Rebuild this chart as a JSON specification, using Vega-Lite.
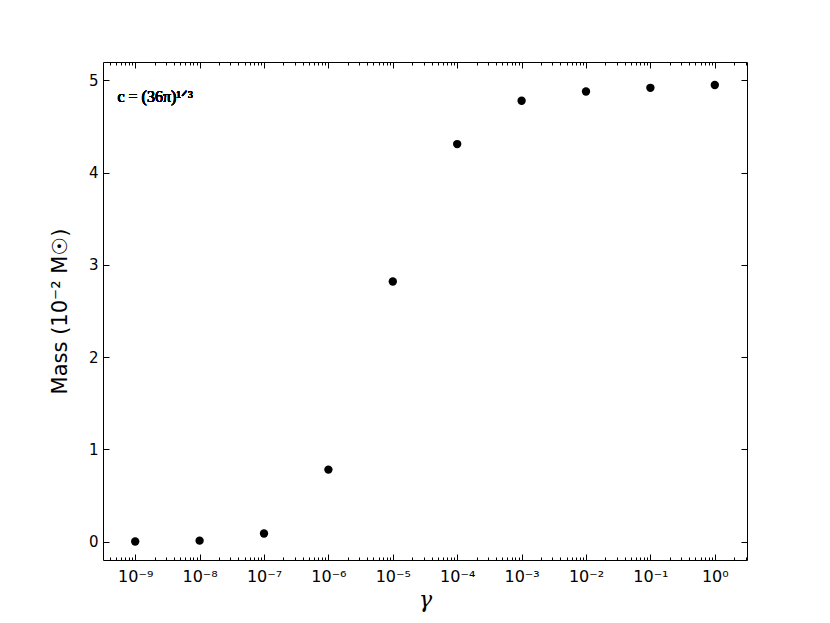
{
  "$schema": "https://vega.github.io/schema/vega-lite/v6.json",
  "width": 644,
  "height": 498,
  "autosize": "none",
  "padding": {"left": 103, "top": 62, "right": 83, "bottom": 63},
  "background": "white",
  "config": {
    "view": {"stroke": "black", "strokeWidth": 1},
    "axis": {"domain": false, "grid": false, "tickColor": "black", "labelColor": "black", "titleColor": "black", "labelFont": "DejaVu Sans", "labelFontSize": 15, "tickWidth": 1}
  },
  "data": {"values": [
    {"gamma": 1e-9, "mass": 0.0},
    {"gamma": 1e-8, "mass": 0.01},
    {"gamma": 1e-7, "mass": 0.087},
    {"gamma": 1e-6, "mass": 0.78},
    {"gamma": 1e-5, "mass": 2.82},
    {"gamma": 1e-4, "mass": 4.31},
    {"gamma": 1e-3, "mass": 4.78},
    {"gamma": 1e-2, "mass": 4.88},
    {"gamma": 1e-1, "mass": 4.92},
    {"gamma": 1, "mass": 4.95}
  ]},
  "resolve": {"axis": {"x": "independent", "y": "independent"}},
  "layer": [
    {
      "mark": {"type": "circle", "size": 70, "color": "black", "opacity": 1},
      "encoding": {
        "x": {"field": "gamma", "type": "quantitative",
          "scale": {"type": "log", "domain": [3.1623e-10, 3.1623], "nice": false},
          "axis": {"orient": "bottom", "values": [1e-9, 1e-8, 1e-7, 1e-6, 1e-5, 1e-4, 1e-3, 1e-2, 1e-1, 1],
            "labelExpr": "'10' + ['⁻⁹','⁻⁸','⁻⁷','⁻⁶','⁻⁵','⁻⁴','⁻³','⁻²','⁻¹','⁰'][round(log(datum.value)/LN10)+9]",
            "labelFontSize": 16,
            "tickSize": -6, "labelPadding": 14, "title": "γ", "titleFont": "DejaVu Serif", "titleFontStyle": "italic", "titleFontWeight": "normal", "titleFontSize": 22, "titlePadding": 5}},
        "y": {"field": "mass", "type": "quantitative",
          "scale": {"domain": [-0.2, 5.2], "nice": false, "zero": false},
          "axis": {"orient": "left", "values": [0, 1, 2, 3, 4, 5], "format": "d", "tickSize": -6, "labelPadding": 11,
            "title": "Mass (10⁻² M☉)", "titleFont": "DejaVu Sans", "titleFontWeight": "normal", "titleFontSize": 21, "titlePadding": 18}}
      }
    },
    {
      "mark": {"type": "circle", "opacity": 0},
      "encoding": {
        "x": {"field": "gamma", "type": "quantitative",
          "axis": {"orient": "bottom", "labels": false, "title": null, "tickSize": -3,
            "values": [4e-10,5e-10,6e-10,7e-10,8e-10,9e-10,
              2e-9,3e-9,4e-9,5e-9,6e-9,7e-9,8e-9,9e-9,
              2e-8,3e-8,4e-8,5e-8,6e-8,7e-8,8e-8,9e-8,
              2e-7,3e-7,4e-7,5e-7,6e-7,7e-7,8e-7,9e-7,
              2e-6,3e-6,4e-6,5e-6,6e-6,7e-6,8e-6,9e-6,
              2e-5,3e-5,4e-5,5e-5,6e-5,7e-5,8e-5,9e-5,
              2e-4,3e-4,4e-4,5e-4,6e-4,7e-4,8e-4,9e-4,
              2e-3,3e-3,4e-3,5e-3,6e-3,7e-3,8e-3,9e-3,
              0.02,0.03,0.04,0.05,0.06,0.07,0.08,0.09,
              0.2,0.3,0.4,0.5,0.6,0.7,0.8,0.9,
              2,3]}},
        "y": {"field": "mass", "type": "quantitative", "axis": null}
      }
    },
    {
      "mark": {"type": "circle", "opacity": 0},
      "encoding": {
        "x": {"field": "gamma", "type": "quantitative",
          "axis": {"orient": "top", "labels": false, "title": null, "tickSize": -6,
            "values": [1e-9, 1e-8, 1e-7, 1e-6, 1e-5, 1e-4, 1e-3, 1e-2, 1e-1, 1]}},
        "y": {"field": "mass", "type": "quantitative",
          "axis": {"orient": "right", "labels": false, "title": null, "tickSize": -6, "values": [0, 1, 2, 3, 4, 5]}}
      }
    },
    {
      "mark": {"type": "circle", "opacity": 0},
      "encoding": {
        "x": {"field": "gamma", "type": "quantitative",
          "axis": {"orient": "top", "labels": false, "title": null, "tickSize": -3,
            "values": [4e-10,5e-10,6e-10,7e-10,8e-10,9e-10,
              2e-9,3e-9,4e-9,5e-9,6e-9,7e-9,8e-9,9e-9,
              2e-8,3e-8,4e-8,5e-8,6e-8,7e-8,8e-8,9e-8,
              2e-7,3e-7,4e-7,5e-7,6e-7,7e-7,8e-7,9e-7,
              2e-6,3e-6,4e-6,5e-6,6e-6,7e-6,8e-6,9e-6,
              2e-5,3e-5,4e-5,5e-5,6e-5,7e-5,8e-5,9e-5,
              2e-4,3e-4,4e-4,5e-4,6e-4,7e-4,8e-4,9e-4,
              2e-3,3e-3,4e-3,5e-3,6e-3,7e-3,8e-3,9e-3,
              0.02,0.03,0.04,0.05,0.06,0.07,0.08,0.09,
              0.2,0.3,0.4,0.5,0.6,0.7,0.8,0.9,
              2,3]}},
        "y": {"field": "mass", "type": "quantitative", "axis": null}
      }
    },
    {
      "mark": {"type": "text", "text": "c = (36π)¹ᐟ³", "font": "Liberation Serif", "fontSize": 16, "fontWeight": "normal", "align": "left", "baseline": "middle", "color": "black"},
      "encoding": {
        "x": {"datum": 5.3e-10, "type": "quantitative", "axis": null},
        "y": {"datum": 4.82, "type": "quantitative", "axis": null}
      }
    }
  ]
}
